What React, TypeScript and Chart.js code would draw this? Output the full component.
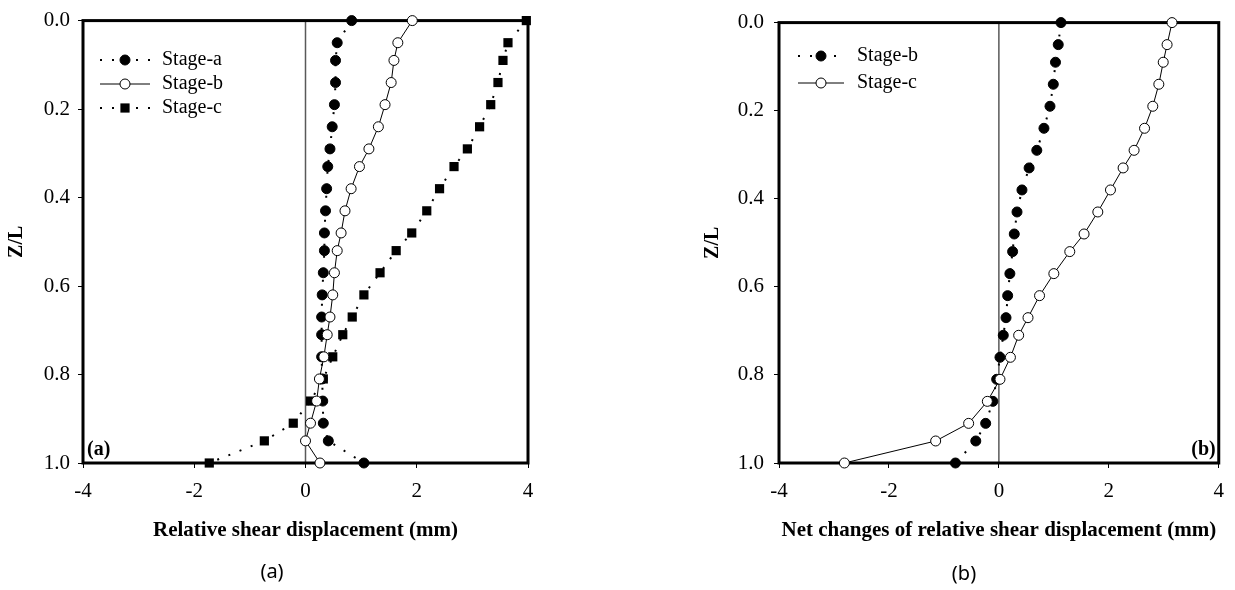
import React, { useEffect, useRef } from 'react';
import { Chart, registerables } from 'chart.js';

Chart.register(...registerables);

// ---------------- data ----------------
const zOverL = [0, 0.05, 0.09, 0.14, 0.19, 0.24, 0.29, 0.33, 0.38, 0.43, 0.48, 0.52, 0.57, 0.62, 0.67, 0.71, 0.76, 0.81, 0.86, 0.91, 0.95, 1.0];

// (a) Relative shear displacement (mm)
const stageA = [0.83, 0.57, 0.54, 0.54, 0.52, 0.48, 0.44, 0.40, 0.38, 0.36, 0.34, 0.34, 0.32, 0.30, 0.29, 0.29, 0.29, 0.30, 0.31, 0.32, 0.41, 1.05];
const stageB = [1.92, 1.66, 1.59, 1.54, 1.43, 1.31, 1.14, 0.97, 0.82, 0.71, 0.64, 0.57, 0.52, 0.49, 0.44, 0.39, 0.33, 0.25, 0.20, 0.09, 0.0, 0.26];
const stageC = [3.97, 3.64, 3.55, 3.46, 3.33, 3.13, 2.91, 2.67, 2.41, 2.18, 1.91, 1.63, 1.34, 1.05, 0.84, 0.67, 0.49, 0.32, 0.09, -0.22, -0.74, -1.73];

// (b) Net changes of relative shear displacement (mm)
const netStageB = [1.13, 1.08, 1.03, 0.99, 0.93, 0.82, 0.69, 0.55, 0.42, 0.33, 0.28, 0.25, 0.20, 0.16, 0.13, 0.08, 0.02, -0.04, -0.11, -0.24, -0.42, -0.79];
const netStageC = [3.15, 3.06, 2.99, 2.91, 2.80, 2.65, 2.46, 2.26, 2.03, 1.80, 1.55, 1.29, 1.00, 0.74, 0.53, 0.36, 0.21, 0.02, -0.21, -0.55, -1.15, -2.81];

const xMin = -4;
const xMax = 4;
const xStep = 2;
const yMin = 0;
const yMax = 1;
const yStep = 0.2;

const titleA = 'Relative shear displacement (mm)';
const titleB = 'Net changes of relative shear displacement (mm)';
const yTitle = 'Z/L';

// ---------------- styling ----------------
const SERIF = '"Liberation Serif", "Times New Roman", Times, serif';
const SANS = '"Noto Sans", "DejaVu Sans", sans-serif';

type Kind = 'dot' | 'open' | 'square';

const DOTTED = [2, 10];

function drawMarker(ctx: CanvasRenderingContext2D, kind: Kind, x: number, y: number) {
  ctx.save();
  ctx.setLineDash([]);
  ctx.lineWidth = 1;
  ctx.strokeStyle = '#000';
  if (kind === 'square') {
    const s = 4.6;
    ctx.fillStyle = '#000';
    ctx.fillRect(x - s, y - s, 2 * s, 2 * s);
  } else {
    ctx.beginPath();
    ctx.arc(x, y, 5, 0, Math.PI * 2);
    ctx.fillStyle = kind === 'dot' ? '#000' : '#fff';
    ctx.fill();
    ctx.stroke();
  }
  ctx.restore();
}

function makeDataset(label: string, xs: number[], kind: Kind, dashed: boolean, order: number) {
  return {
    label,
    data: xs.map((v, i) => ({ x: v, y: zOverL[i] })),
    showLine: true,
    borderColor: '#000',
    borderWidth: dashed ? 2 : 1,
    borderDash: dashed ? DOTTED : [],
    borderCapStyle: 'butt' as const,
    pointStyle: kind === 'square' ? 'rect' : 'circle',
    pointRadius: kind === 'square' ? 6.5 : 5,
    pointBorderWidth: kind === 'square' ? 0 : 1,
    pointBackgroundColor: kind === 'open' ? '#fff' : '#000',
    pointBorderColor: '#000',
    clip: false as const,
    order,
  };
}

interface LegendItem { label: string; kind: Kind; dashed: boolean; }

interface PanelCfg {
  canvasWidth: number;
  canvasHeight: number;
  areaLeft: number;
  areaRight: number;
  areaTop: number;
  areaBottom: number;
  tickPadY: number;
  xTitle: string;
  yTitleX: number;
  legend: LegendItem[];
  legendX1: number;
  legendX2: number;
  legendTextX: number;
  legendY0: number;
  legendDy: number;
  panelTag: string;
  panelTagRight: boolean;
  caption: string;
  captionX: number;
  captionY: number;
  datasets: any[];
}

function makePlugin(cfg: PanelCfg) {
  return {
    id: 'panelDeco',
    beforeDatasetsDraw(chart: any) {
      const { ctx, chartArea: a, scales } = chart;
      ctx.save();
      const x0 = scales.x.getPixelForValue(0);
      ctx.strokeStyle = '#595959';
      ctx.lineWidth = 1.5;
      ctx.beginPath();
      ctx.moveTo(x0, a.top);
      ctx.lineTo(x0, a.bottom);
      ctx.stroke();
      ctx.strokeStyle = '#000';
      ctx.lineWidth = 3;
      ctx.strokeRect(a.left, a.top, a.right - a.left, a.bottom - a.top);
      ctx.restore();
    },
    afterDraw(chart: any) {
      const { ctx, chartArea: a } = chart;
      ctx.save();
      ctx.fillStyle = '#000';
      // legend
      cfg.legend.forEach((it, i) => {
        const y = cfg.legendY0 + i * cfg.legendDy;
        ctx.save();
        ctx.strokeStyle = '#000';
        ctx.lineWidth = it.dashed ? 2 : 1;
        ctx.lineCap = 'butt';
        ctx.setLineDash(it.dashed ? DOTTED : []);
        ctx.beginPath();
        ctx.moveTo(cfg.legendX1, y);
        ctx.lineTo(cfg.legendX2, y);
        ctx.stroke();
        ctx.restore();
        drawMarker(ctx, it.kind, (cfg.legendX1 + cfg.legendX2) / 2, y);
        ctx.font = `20px ${SERIF}`;
        ctx.textAlign = 'left';
        ctx.textBaseline = 'middle';
        ctx.fillText(it.label, cfg.legendTextX, y);
      });
      // panel tag inside plot
      ctx.font = `bold 20px ${SERIF}`;
      ctx.textBaseline = 'middle';
      if (cfg.panelTagRight) {
        ctx.textAlign = 'right';
        ctx.fillText(cfg.panelTag, a.right - 3, a.bottom - 13);
      } else {
        ctx.textAlign = 'left';
        ctx.fillText(cfg.panelTag, a.left + 4, a.bottom - 13);
      }
      // x title
      ctx.font = `bold 21px ${SERIF}`;
      ctx.textAlign = 'center';
      ctx.textBaseline = 'middle';
      ctx.fillText(cfg.xTitle, (a.left + a.right) / 2, 531);
      // y title
      ctx.save();
      ctx.translate(cfg.yTitleX, (a.top + a.bottom) / 2);
      ctx.rotate(-Math.PI / 2);
      ctx.font = `bold 20px ${SERIF}`;
      ctx.textAlign = 'center';
      ctx.textBaseline = 'middle';
      ctx.fillText(yTitle, 0, 0);
      ctx.restore();
      // caption
      ctx.font = `20px ${SANS}`;
      ctx.textAlign = 'center';
      ctx.textBaseline = 'middle';
      ctx.fillText(cfg.caption, cfg.captionX, cfg.captionY);
      ctx.restore();
    },
  };
}

function Panel({ cfg, left }: { cfg: PanelCfg; left: number }) {
  const ref = useRef<HTMLCanvasElement | null>(null);
  useEffect(() => {
    if (!ref.current) return;
    const yAxisWidth = cfg.areaLeft;
    const xAxisHeight = cfg.canvasHeight - cfg.areaBottom;
    const chart = new Chart(ref.current, {
      type: 'scatter',
      data: { datasets: cfg.datasets },
      options: {
        responsive: false,
        animation: false,
        events: [],
        layout: {
          padding: { top: cfg.areaTop, right: cfg.canvasWidth - cfg.areaRight, bottom: 0, left: 0 },
        },
        plugins: { legend: { display: false }, tooltip: { enabled: false } },
        scales: {
          x: {
            type: 'linear',
            min: xMin,
            max: xMax,
            afterFit: (s: any) => { s.height = xAxisHeight; },
            ticks: {
              stepSize: xStep,
              color: '#000',
              padding: 11,
              font: { family: SERIF, size: 21 },
              callback: (v: any) => String(v),
            },
            grid: { display: true, drawOnChartArea: false, drawTicks: true, tickLength: 5, color: '#000', lineWidth: 1 },
            border: { display: false },
          },
          y: {
            type: 'linear',
            reverse: true,
            min: yMin,
            max: yMax,
            afterFit: (s: any) => { s.width = yAxisWidth; },
            ticks: {
              stepSize: yStep,
              color: '#000',
              padding: cfg.tickPadY,
              font: { family: SERIF, size: 21 },
              callback: (v: any) => Number(v).toFixed(1),
            },
            grid: { display: true, drawOnChartArea: false, drawTicks: true, tickLength: 5, color: '#000', lineWidth: 1 },
            border: { display: false },
          },
        },
      } as any,
      plugins: [makePlugin(cfg)],
    });
    return () => chart.destroy();
  }, [cfg]);
  return (
    <canvas
      ref={ref}
      width={cfg.canvasWidth}
      height={cfg.canvasHeight}
      style={{ position: 'absolute', left, top: 0, width: cfg.canvasWidth, height: cfg.canvasHeight }}
    />
  );
}

const leftLeft = 0;
const rightLeft = 617;

const cfgA: PanelCfg = {
  canvasWidth: 617,
  canvasHeight: 590,
  areaLeft: 83,
  areaRight: 528,
  areaTop: 20,
  areaBottom: 463,
  tickPadY: 8,
  xTitle: titleA,
  yTitleX: 17,
  legend: [
    { label: 'Stage-a', kind: 'dot', dashed: true },
    { label: 'Stage-b', kind: 'open', dashed: false },
    { label: 'Stage-c', kind: 'square', dashed: true },
  ],
  legendX1: 100,
  legendX2: 150,
  legendTextX: 162,
  legendY0: 60,
  legendDy: 24,
  panelTag: '(a)',
  panelTagRight: false,
  caption: '(a)',
  captionX: 272,
  captionY: 572,
  datasets: [
    makeDataset('Stage-b', stageB, 'open', false, 1),
    makeDataset('Stage-c', stageC, 'square', true, 2),
    makeDataset('Stage-a', stageA, 'dot', true, 3),
  ],
};

const cfgB: PanelCfg = {
  canvasWidth: 618,
  canvasHeight: 590,
  areaLeft: 779 - rightLeft,
  areaRight: 1221 - rightLeft,
  areaTop: 20,
  areaBottom: 463,
  tickPadY: 10,
  xTitle: titleB,
  yTitleX: 713 - rightLeft,
  legend: [
    { label: 'Stage-b', kind: 'dot', dashed: true },
    { label: 'Stage-c', kind: 'open', dashed: false },
  ],
  legendX1: 798 - rightLeft,
  legendX2: 844 - rightLeft,
  legendTextX: 857 - rightLeft,
  legendY0: 56,
  legendDy: 27,
  panelTag: '(b)',
  panelTagRight: true,
  caption: '(b)',
  captionX: 964 - rightLeft,
  captionY: 574,
  datasets: [
    makeDataset('Stage-c', netStageC, 'open', false, 1),
    makeDataset('Stage-b', netStageB, 'dot', true, 2),
  ],
};

export default function App() {
  return (
    <div style={{ position: 'absolute', left: 0, top: 0, width: 1235, height: 590, background: '#fff', overflow: 'hidden' }}>
      <Panel cfg={cfgA} left={leftLeft} />
      <Panel cfg={cfgB} left={rightLeft} />
    </div>
  );
}
